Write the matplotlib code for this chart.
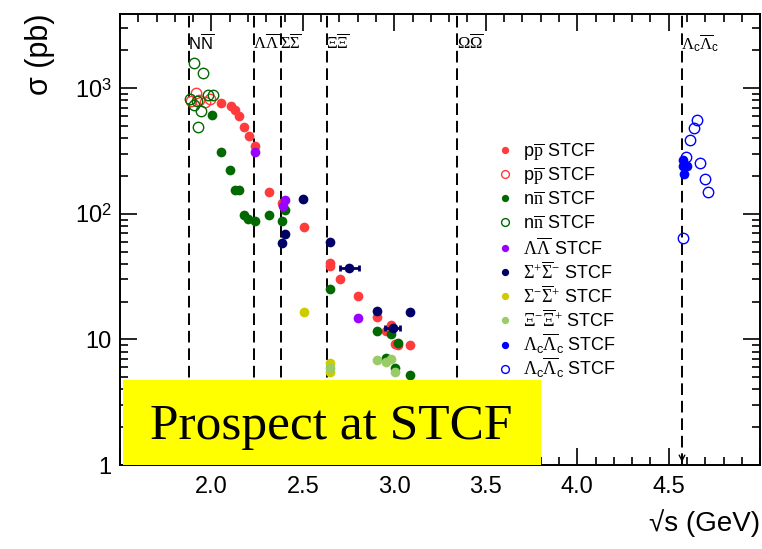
import matplotlib

matplotlib.use("Agg")
import matplotlib.pyplot as plt
from matplotlib.legend import Legend
from matplotlib.patches import Rectangle
from matplotlib.ticker import FixedLocator, FuncFormatter, LogLocator, MultipleLocator

plt.rcParams["font.family"] = ["Liberation Sans", "DejaVu Sans"]
plt.rcParams["mathtext.fontset"] = "custom"
plt.rcParams["mathtext.rm"] = "Liberation Serif"
plt.rcParams["mathtext.it"] = "Liberation Serif:italic"
plt.rcParams["mathtext.sf"] = "Liberation Sans"

# pair-production thresholds (GeV) and their labels
thr_x = [1.877, 2.231, 2.379, 2.630, 3.345, 4.573]
thr_lab = [r"$\mathsf{N}\overline{\mathsf{N}}$", r"$\Lambda\overline{\Lambda}$", r"$\Sigma\overline{\Sigma}$",
           r"$\Xi\overline{\Xi}$", r"$\Omega\overline{\Omega}$",
           r"$\Lambda_{\mathsf{c}}\overline{\Lambda}_{\mathsf{c}}$"]

# p pbar, STCF projection (filled) and existing-style points (open)
pp_x = [2.051, 2.105, 2.129, 2.153, 2.180, 2.203, 2.237, 2.312, 2.384, 2.504,
        2.649, 2.649, 2.703, 2.803, 2.904, 2.984, 2.953, 3.002, 3.022, 3.085]
pp_y = [764, 719, 668, 598, 492, 415, 345, 150, 122, 78.8,
        40.3, 38.3, 30.0, 22.1, 15.0, 13.0, 11.7, 9.2, 9.0, 9.0]
pp_open_x = [1.890, 1.915, 1.933, 1.966, 1.990]
pp_open_y = [790, 908, 802, 778, 820]

# n nbar
nn_x = [2.002, 2.051, 2.101, 2.129, 2.153, 2.178, 2.201, 2.237, 2.312, 2.400,
        2.388, 2.649, 2.904, 2.984, 3.022, 2.953, 3.002, 3.085]
nn_y = [610, 310, 222, 154, 154, 97, 90.7, 87.5, 98, 107,
        87.5, 25.1, 11.7, 11.0, 9.3, 7.06, 5.95, 5.2]
nn_open_x = [1.903, 1.953, 1.980, 2.006, 1.884, 1.920, 1.903, 1.942, 1.924]
nn_open_y = [1590, 1324, 880, 880, 828, 790, 732, 656, 492]

# Lambda Lambdabar
ll_x = [2.237, 2.400, 2.392, 2.803]
ll_y = [311, 128, 115, 14.8]

# Sigma+ Sigmabar-
sp_x = [2.502, 2.400, 2.388, 2.649, 2.754, 2.904, 3.085, 2.990]
sp_y = [131, 68.9, 58.7, 59.8, 36.7, 16.7, 16.5, 12.4]
sp_xerr = [0, 0, 0, 0, 0.053, 0, 0, 0.039]

# Sigma- Sigmabar+
sm_x = [2.504, 2.649, 2.649]
sm_y = [16.6, 6.45, 5.47]

# Xi- Xibar+
xi_x = [2.649, 2.904, 2.953, 2.984, 3.006]
xi_y = [5.88, 6.85, 6.64, 6.97, 5.5]

# Lambda_c Lambda_cbar
lc_x = [4.576, 4.601, 4.584, 4.577]
lc_y = [239, 239, 209, 267]
lc_open_x = [4.656, 4.638, 4.617, 4.593, 4.674, 4.698, 4.716, 4.576]
lc_open_y = [556, 478, 385, 284, 252, 191, 150, 64]

C_RED = "#ff3b3b"
C_GREEN = "#006a00"
C_PURPLE = "#9900ff"
C_NAVY = "#000066"
C_YELLOW = "#cccc00"
C_LGREEN = "#99cc66"
C_BLUE = "#0000ff"

fig = plt.figure(figsize=(7.62, 5.49), dpi=100)
ax = fig.add_axes([0.1575, 0.153, 0.84, 0.8215])
ax.set_yscale("log")
ax.set_xlim(1.5, 5.0)
ax.set_ylim(1, 3900)

for x in thr_x:
    ax.axvline(x, color="black", lw=1.4, ls=(0, (6, 3)), zorder=1)
for x, t in zip(thr_x, thr_lab):
    ax.text(x - 0.005, 0.936, t, transform=ax.get_xaxis_transform(),
            ha="left", va="center", fontsize=12)
ax.annotate("", xy=(4.573, 1.0), xytext=(4.573, 1.25),
            arrowprops=dict(arrowstyle="->", lw=1.0, color="black"))

ms = 7
mo = 7.5
ax.plot(pp_x, pp_y, "o", ms=ms, color=C_RED, mec="none", label=r"p$\overline{\rm p}$ STCF", zorder=3)
ax.plot(pp_open_x, pp_open_y, "o", ms=mo, mfc="none", mec=C_RED, mew=1.0,
        label=r"p$\overline{\rm p}$ STCF", zorder=3)
ax.plot(nn_x, nn_y, "o", ms=ms, color=C_GREEN, mec="none", label=r"n$\overline{\rm n}$ STCF", zorder=3)
ax.plot(nn_open_x, nn_open_y, "o", ms=mo, mfc="none", mec=C_GREEN, mew=1.0,
        label=r"n$\overline{\rm n}$ STCF", zorder=3)
ax.plot(ll_x, ll_y, "o", ms=ms, color=C_PURPLE, mec="none",
        label=r"$\Lambda\overline{\Lambda}$ STCF", zorder=4)
ax.errorbar(sp_x, sp_y, xerr=sp_xerr, fmt="none", ecolor=C_NAVY,
            elinewidth=2, capsize=2.5, capthick=2, zorder=4)
ax.plot(sp_x, sp_y, "o", ms=ms, color=C_NAVY, mec="none",
        label=r"$\Sigma^{+}\overline{\Sigma}^{-}$ STCF", zorder=4)
ax.plot(sm_x, sm_y, "o", ms=ms, color=C_YELLOW, mec="none",
        label=r"$\Sigma^{-}\overline{\Sigma}^{+}$ STCF", zorder=3)
ax.plot(xi_x, xi_y, "o", ms=ms, color=C_LGREEN, mec="none",
        label=r"$\Xi^{-}\overline{\Xi}^{+}$ STCF", zorder=3)
ax.plot(lc_x, lc_y, "o", ms=ms, color=C_BLUE, mec="none",
        label=r"$\Lambda_{\mathsf{c}}\overline{\Lambda}_{\mathsf{c}}$ STCF", zorder=3)
ax.plot(lc_open_x, lc_open_y, "o", ms=mo, mfc="none", mec=C_BLUE, mew=1.0,
        label=r"$\Lambda_{\mathsf{c}}\overline{\Lambda}_{\mathsf{c}}$ STCF", zorder=3)

# one legend per entry so every row gets the same pitch regardless of mathtext height
handles, labels = ax.get_legend_handles_labels()
row_top, row_step = 0.694, 0.0532
for i, (h, lab) in enumerate(zip(handles, labels)):
    leg = Legend(ax, [h], [lab], loc="center left", bbox_to_anchor=(0.59, row_top - i * row_step),
                 frameon=False, fontsize=13, handlelength=0.8, handletextpad=0.6,
                 borderaxespad=0, borderpad=0, markerscale=0.75)
    ax.add_artist(leg)

# yellow banner over the low-cross-section corner
ax.add_patch(Rectangle((0.005, 0.0), 0.652, 0.188, transform=ax.transAxes,
                       facecolor="#ffff00", edgecolor="none", zorder=6))
ax.text(0.33, 0.085, "Prospect at STCF", transform=ax.transAxes, ha="center", va="center",
        fontsize=37, family="Liberation Serif", zorder=7)

ax.xaxis.set_major_locator(MultipleLocator(0.5))
ax.xaxis.set_minor_locator(MultipleLocator(0.1))
ax.xaxis.set_major_formatter(FuncFormatter(lambda v, p: f"{v:.1f}" if 1.9 < v < 4.9 else ""))
ax.yaxis.set_major_locator(FixedLocator([1, 10, 100, 1000]))
ax.yaxis.set_minor_locator(LogLocator(base=10, subs=range(2, 10)))
ax.yaxis.set_major_formatter(FuncFormatter(
    lambda v, p: {1: "1", 10: "10", 100: r"10$^{\mathsf{2}}$", 1000: r"10$^{\mathsf{3}}$"}.get(round(v), "")))
ax.yaxis.set_minor_formatter(FuncFormatter(lambda v, p: ""))
ax.tick_params(which="both", direction="in", top=True, right=True, width=1.2)
ax.tick_params(which="major", length=12, labelsize=17)
ax.tick_params(which="minor", length=6)
ax.tick_params(axis="x", which="major", pad=8)
ax.tick_params(axis="y", which="major", pad=6)
for s in ax.spines.values():
    s.set_linewidth(1.4)

ax.set_ylabel("σ (pb)", fontsize=22, loc="top", labelpad=14)
ax.set_xlabel("√s (GeV)", fontsize=20, loc="right", labelpad=8)

fig.savefig("out.png", dpi=100)
